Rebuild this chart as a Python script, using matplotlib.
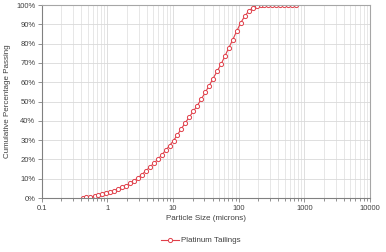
import matplotlib
matplotlib.use("Agg")
import matplotlib.pyplot as plt
from matplotlib.ticker import FixedLocator, FuncFormatter, LogLocator, NullFormatter

# particle size (microns) and cumulative % passing
sizes = [0.42, 0.48, 0.55, 0.64, 0.73, 0.84, 0.96, 1.11, 1.27, 1.46, 1.68, 1.93,
         2.22, 2.55, 2.92, 3.36, 3.86, 4.43, 5.09, 5.85, 6.72, 7.72, 8.87, 10.2,
         11.7, 13.4, 15.4, 17.7, 20.4, 23.4, 26.9, 30.9, 35.5, 40.7, 46.8, 53.8,
         61.8, 70.9, 81.5, 93.6, 107.5, 123.5, 141.9, 163.0, 187.2, 215.1, 247.1,
         283.8, 326.0, 374.5, 430.2, 494.2, 567.7, 652.1, 749.1]
passing = [0.0, 0.3, 0.6, 1.0, 1.4, 1.9, 2.5, 3.1, 3.8, 4.6, 5.5, 6.5,
           7.7, 9.0, 10.5, 12.2, 14.1, 16.0, 18.0, 20.0, 22.3, 24.7, 27.2, 29.8,
           32.8, 35.9, 39.0, 42.0, 44.9, 47.9, 51.2, 54.7, 58.2, 61.9, 65.6, 69.3,
           73.6, 77.9, 82.1, 86.6, 90.8, 94.2, 96.8, 98.6, 99.7, 100.0, 100.0,
           100.0, 100.0, 100.0, 100.0, 100.0, 100.0, 100.0, 100.0]
series_name = "Platinum Tailings"
x_ticks = [0.1, 1, 10, 100, 1000, 10000]
y_ticks = list(range(0, 101, 10))

RED = "#e0404a"
plt.rcParams["font.family"] = ["Liberation Sans", "DejaVu Sans"]

fig = plt.figure(figsize=(3.86, 2.52), dpi=100)
ax = fig.add_axes([0.108, 0.214, 0.8505, 0.766])

ax.plot(sizes, passing, color=RED, linewidth=0.8, marker="o", markersize=3.0,
        markerfacecolor="white", markeredgecolor=RED, markeredgewidth=0.7,
        label=series_name)

ax.set_xscale("log")
ax.set_xlim(0.1, 10000)
ax.set_ylim(0, 100)
ax.xaxis.set_major_locator(FixedLocator(x_ticks))
ax.xaxis.set_major_formatter(FuncFormatter(lambda v, p: f"{v:g}"))
ax.xaxis.set_minor_locator(LogLocator(base=10, subs=range(2, 10), numticks=20))
ax.xaxis.set_minor_formatter(NullFormatter())
ax.set_yticks(y_ticks)
ax.set_yticklabels([f"{v}%" for v in y_ticks])

ax.grid(True, which="major", color="#d9d9d9", linewidth=0.6)
ax.grid(True, which="minor", axis="x", color="#e3e3e3", linewidth=0.6)
ax.set_axisbelow(True)

for side in ["top", "right"]:
    ax.spines[side].set_color("#a6a6a6")
    ax.spines[side].set_linewidth(0.8)
for side in ["left", "bottom"]:
    ax.spines[side].set_color("#808080")
    ax.spines[side].set_linewidth(0.8)

ax.tick_params(axis="both", which="major", labelsize=5.5, colors="#404040",
               length=3, width=0.6, direction="out")
ax.tick_params(axis="x", which="minor", length=2.5, width=0.6, color="#808080",
               direction="out")
ax.tick_params(axis="x", which="major", color="#808080", pad=2)
ax.tick_params(axis="y", which="major", color="#808080", pad=1.5)

ax.set_xlabel("Particle Size (microns)", fontsize=5.8, color="#404040", labelpad=2)
ax.set_ylabel("Cumulative Percentage Passing", fontsize=5.8, color="#404040",
              labelpad=4)

fig.legend(loc="center", bbox_to_anchor=(0.52, 0.045), frameon=False,
           fontsize=5.8, labelcolor="#404040", handlelength=2.2,
           handletextpad=0.3)

fig.savefig("out.png", dpi=100)
plt.close(fig)
